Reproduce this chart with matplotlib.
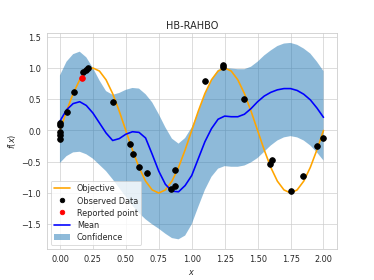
import matplotlib

matplotlib.use("Agg")
import matplotlib.pyplot as plt

# grid used for the curves (step 0.05 from 0 to 2)
x_grid = [i / 20 for i in range(41)]

objective = [0.00, 0.31, 0.59, 0.81, 0.95, 1.00, 0.95, 0.81, 0.59, 0.31,
             0.00, -0.31, -0.59, -0.81, -0.95, -1.00, -0.95, -0.81, -0.59, -0.31,
             0.00, 0.31, 0.59, 0.81, 0.95, 1.00, 0.95, 0.81, 0.59, 0.31,
             0.00, -0.31, -0.59, -0.81, -0.95, -1.00, -0.95, -0.81, -0.59, -0.31,
             0.00]

mean = [0.15, 0.33, 0.43, 0.46, 0.40, 0.28, 0.12, -0.04, -0.16, -0.13,
        -0.06, -0.02, -0.03, -0.12, -0.38, -0.65, -0.86, -0.97, -0.98, -0.88,
        -0.72, -0.45, -0.18, 0.03, 0.18, 0.23, 0.22, 0.22, 0.26, 0.35,
        0.46, 0.55, 0.61, 0.65, 0.67, 0.67, 0.64, 0.58, 0.49, 0.36,
        0.21]

upper = [0.88, 1.10, 1.22, 1.26, 1.17, 1.00, 0.80, 0.63, 0.57, 0.60,
         0.65, 0.68, 0.67, 0.58, 0.45, 0.26, 0.05, -0.13, -0.21, -0.12,
         0.05, 0.30, 0.58, 0.82, 0.97, 1.00, 0.99, 0.98, 0.98, 1.02,
         1.10, 1.20, 1.28, 1.35, 1.39, 1.40, 1.37, 1.31, 1.23, 1.10,
         0.95]

lower = [-0.52, -0.41, -0.35, -0.34, -0.38, -0.45, -0.55, -0.65, -0.78, -0.92,
         -1.06, -1.20, -1.32, -1.42, -1.50, -1.57, -1.65, -1.72, -1.74, -1.68,
         -1.50, -1.22, -0.95, -0.74, -0.61, -0.57, -0.58, -0.58, -0.56, -0.51,
         -0.44, -0.34, -0.24, -0.16, -0.11, -0.09, -0.11, -0.16, -0.24, -0.35,
         -0.48]

obs_x = [0.0, 0.0, 0.0, 0.0, 0.0, 0.05, 0.106, 0.177, 0.195, 0.21,
         0.405, 0.53, 0.553, 0.598, 0.659, 0.842, 0.872, 0.872,
         1.10, 1.237, 1.237, 1.40, 1.592, 1.61, 1.757, 1.843, 1.952, 2.0]
obs_y = [0.12, 0.09, -0.03, -0.08, -0.13, 0.29, 0.62, 0.93, 0.97, 1.0,
         0.46, -0.22, -0.38, -0.58, -0.68, -0.94, -0.63, -0.88,
         0.79, 1.04, 1.01, 0.51, -0.54, -0.47, -0.96, -0.73, -0.25, -0.12]

best_x = [0.165]
best_y = [0.845]

plt.style.use("seaborn-v0_8-whitegrid")
plt.rcParams["font.family"] = ["DejaVu Sans"]
plt.rcParams["xtick.major.pad"] = 7
plt.rcParams["ytick.major.pad"] = 7

fig, ax = plt.subplots(figsize=(6.4, 4.8))
ax.plot(x_grid, objective, color="orange", lw=2, label="Objective")
ax.plot(obs_x, obs_y, "o", color="black", ms=7, label="Observed Data", zorder=3)
ax.plot(best_x, best_y, "o", color="red", ms=7, label="Reported point", zorder=4)
ax.plot(x_grid, mean, color="blue", lw=2, label="Mean")
ax.fill_between(x_grid, lower, upper, alpha=0.5, label="Confidence")
ax.set_title("HB-RAHBO")
ax.set_xlabel("$x$")
ax.set_ylabel("$f(x)$")
ax.legend(loc="lower left", frameon=True, labelspacing=0.4, markerscale=0.8)
fig.savefig("out.png", dpi=58.45)
